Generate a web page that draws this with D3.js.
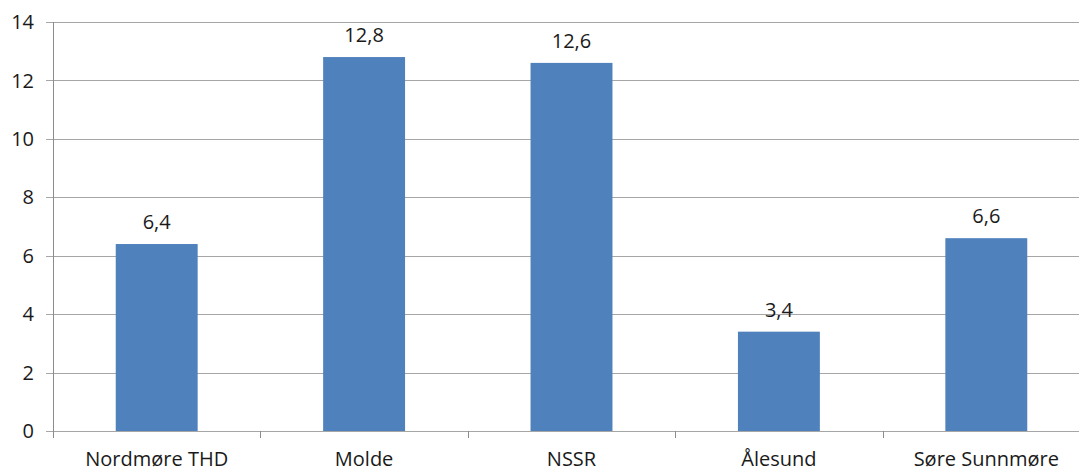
<!DOCTYPE html>
<html>
<head>
<meta charset="utf-8">
<script src="https://cdn.jsdelivr.net/npm/d3@7"></script>
<style>
  body { margin: 0; background: #fff; }
  svg { display: block; font-family: "Open Sans", Lato, sans-serif; }
</style>
</head>
<body>
<svg id="chart" width="1079" height="468"></svg>
<script>
// data
var categories = ["Nordmøre THD", "Molde", "NSSR", "Ålesund", "Søre Sunnmøre"];
var values = [6.4, 12.8, 12.6, 3.4, 6.6];
var yTicks = [0, 2, 4, 6, 8, 10, 12, 14];

var svg = d3.select("#chart");

var plotLeft = 53, plotRight = 1090, plotTop = 22, plotBottom = 431;

var x = d3.scaleBand()
  .domain(categories)
  .range([plotLeft, plotRight])
  .paddingInner(0.605)
  .paddingOuter(0.3025);

var xOuter = d3.scaleBand()
  .domain(categories)
  .range([plotLeft, plotRight]);

var y = d3.scaleLinear()
  .domain([0, 14])
  .range([plotBottom, plotTop]);

// gridlines
svg.append("g")
  .selectAll("line")
  .data(yTicks)
  .enter()
  .append("line")
  .attr("x1", plotLeft - 7)
  .attr("x2", plotRight)
  .attr("y1", function(d) { return Math.round(y(d)) + 0.5; })
  .attr("y2", function(d) { return Math.round(y(d)) + 0.5; })
  .style("stroke", "#a6a6a6")
  .style("stroke-width", 1);

// y labels
svg.append("g")
  .selectAll("text")
  .data(yTicks)
  .enter()
  .append("text")
  .attr("x", 34)
  .attr("y", function(d) { return y(d); })
  .attr("dy", "0.36em")
  .attr("text-anchor", "end")
  .style("font-size", "20px")
  .style("fill", "#1a1a1a")
  .text(function(d) { return d; });

// y axis line
svg.append("line")
  .attr("x1", plotLeft + 0.5)
  .attr("x2", plotLeft + 0.5)
  .attr("y1", plotTop)
  .attr("y2", plotBottom + 7)
  .style("stroke", "#8c8c8c")
  .style("stroke-width", 1);

// x category ticks
svg.append("g")
  .selectAll("line")
  .data(categories.slice(1))
  .enter()
  .append("line")
  .attr("x1", function(d) { return Math.round(xOuter(d)) + 0.5; })
  .attr("x2", function(d) { return Math.round(xOuter(d)) + 0.5; })
  .attr("y1", plotBottom)
  .attr("y2", plotBottom + 7)
  .style("stroke", "#8c8c8c")
  .style("stroke-width", 1);

// bars
svg.append("g")
  .selectAll("rect")
  .data(values)
  .enter()
  .append("rect")
  .attr("x", function(d, i) { return x(categories[i]); })
  .attr("y", function(d) { return y(d); })
  .attr("width", x.bandwidth())
  .attr("height", function(d) { return plotBottom - y(d); })
  .style("fill", "#4f81bd");

// value labels
svg.append("g")
  .selectAll("text")
  .data(values)
  .enter()
  .append("text")
  .attr("x", function(d, i) { return x(categories[i]) + x.bandwidth() / 2; })
  .attr("y", function(d) { return y(d) - 22; })
  .attr("dy", "0.36em")
  .attr("text-anchor", "middle")
  .style("font-size", "20px")
  .style("fill", "#1a1a1a")
  .text(function(d) { return String(d).replace(".", ","); });

// x labels
svg.append("g")
  .selectAll("text")
  .data(categories)
  .enter()
  .append("text")
  .attr("x", function(d) { return xOuter(d) + xOuter.bandwidth() / 2; })
  .attr("y", 459)
  .attr("dy", "0.36em")
  .attr("text-anchor", "middle")
  .style("font-size", "20px")
  .style("fill", "#1a1a1a")
  .text(function(d) { return d; });
</script>
</body>
</html>
